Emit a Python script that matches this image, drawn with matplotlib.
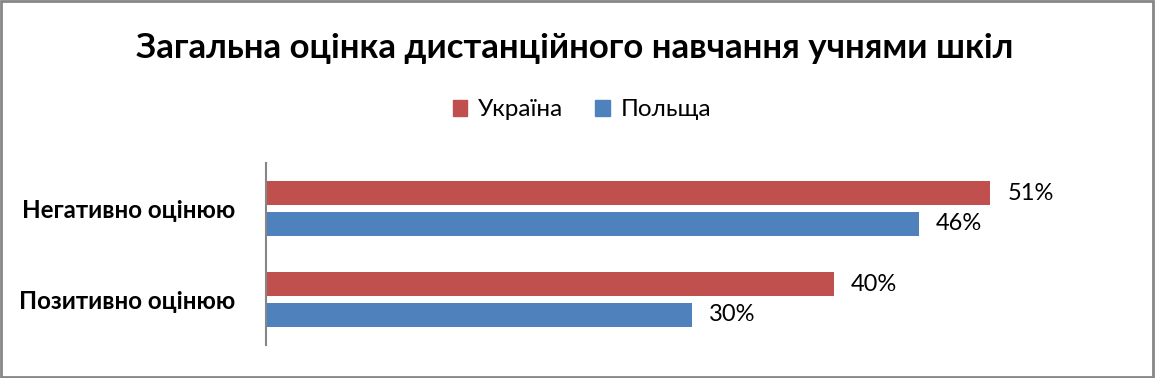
import matplotlib.pyplot as plt
from matplotlib.patches import Rectangle, Patch

categories = ['Позитивно оцінюю', 'Негативно оцінюю']
ukraine = [40, 51]
poland = [30, 46]
series_names = ['Україна', 'Польща']

RED = '#c0504d'
BLUE = '#4f81bd'

plt.rcParams['font.family'] = ['Lato', 'DejaVu Sans']

fig = plt.figure(figsize=(11.55, 3.78), dpi=100)
ax = fig.add_axes([266 / 1155, 1 - 345 / 378, 852 / 1155, 182 / 378])

y = range(len(categories))
h = 0.26
off = 0.17
bars_u = ax.barh([i + off for i in y], ukraine, height=h, color=RED)
bars_p = ax.barh([i - off for i in y], poland, height=h, color=BLUE)

for bars, vals in [(bars_u, ukraine), (bars_p, poland)]:
    for b, v in zip(bars, vals):
        ax.text(b.get_width() + 1.2, b.get_y() + b.get_height() / 2, f'{v}%',
                va='center', ha='left', fontsize=17, color='black')

ax.set_xlim(0, 60)
ax.set_ylim(-0.5, 1.5)
ax.set_yticks(list(y))
ax.set_yticklabels(categories, fontsize=17.4, fontweight='bold')
ax.tick_params(axis='y', length=0, pad=22)
ax.set_xticks([])
for s in ['top', 'right', 'bottom']:
    ax.spines[s].set_visible(False)
ax.spines['left'].set_color('#868686')
ax.spines['left'].set_linewidth(1.5)

fig.text(575 / 1155, 1 - 48 / 378, 'Загальна оцінка дистанційного навчання учнями шкіл',
         ha='center', va='center', fontsize=25, fontweight='bold')

handles = [Patch(color=RED), Patch(color=BLUE)]
fig.legend(handles, series_names, loc='center', bbox_to_anchor=(582 / 1155, 1 - 110 / 378),
           ncol=2, frameon=False, fontsize=17.5, handlelength=0.6, handleheight=0.6,
           handletextpad=0.45, columnspacing=1.3)

fig.patches.append(Rectangle((0.001, 0.002), 0.997, 0.995, transform=fig.transFigure,
                             fill=False, edgecolor='#868686', linewidth=2))

fig.savefig('out.png', dpi=100)
